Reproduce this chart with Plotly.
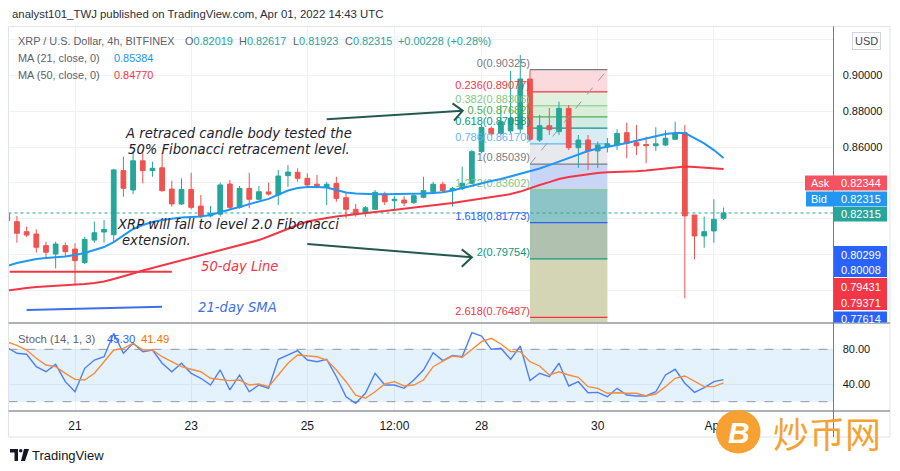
import plotly.graph_objects as go
import pandas as pd

W, H = 900, 471


def px(x):
    return x / W


def py(y):
    return 1 - y / H


base = pd.Timestamp("2022-03-21 00:00")


def t(h):
    return (base + pd.Timedelta(minutes=round(h * 60))).strftime("%Y-%m-%d %H:%M")


# ------------------------------------------------------------------ data
candle_time = pd.date_range("2022-03-19 20:00", periods=75, freq="4h")

open_ = [0.8230, 0.8183, 0.8127, 0.8114, 0.8049, 0.8002, 0.8049, 0.8030, 0.7954, 0.8080,
         0.8125, 0.8110, 0.8468, 0.8360, 0.8523, 0.8468, 0.8484, 0.8365, 0.8282, 0.8363,
         0.8270, 0.8215, 0.8225, 0.8393, 0.8263, 0.8369, 0.8308, 0.8349, 0.8332, 0.8440,
         0.8459, 0.8425, 0.8392, 0.8374, 0.8397, 0.8317, 0.8252, 0.8230, 0.8252, 0.8337,
         0.8300, 0.8304, 0.8289, 0.8319, 0.8350, 0.8392, 0.8356, 0.8369, 0.8397, 0.8574,
         0.8704, 0.8676, 0.8690, 0.8700, 0.8980, 0.8639, 0.8719, 0.8686, 0.8816, 0.8596,
         0.8639, 0.8578, 0.8600, 0.8611, 0.8680, 0.8624, 0.8614, 0.8607, 0.8611, 0.8643,
         0.8680, 0.8220, 0.8103, 0.8131, 0.82019]
high_ = [0.8240, 0.8215, 0.8155, 0.8140, 0.8071, 0.8071, 0.8067, 0.8062, 0.8099, 0.8183,
         0.8192, 0.8478, 0.8546, 0.8580, 0.8585, 0.8518, 0.8568, 0.8412, 0.8425, 0.8456,
         0.8332, 0.8270, 0.8401, 0.8416, 0.8382, 0.8456, 0.8382, 0.8401, 0.8472, 0.8499,
         0.8481, 0.8453, 0.8444, 0.8406, 0.8434, 0.8350, 0.8282, 0.8270, 0.8360, 0.8350,
         0.8326, 0.8326, 0.8341, 0.8434, 0.8406, 0.8406, 0.8378, 0.8490, 0.8583, 0.8723,
         0.8716, 0.8835, 0.9026, 0.9114, 0.9030, 0.8779, 0.8818, 0.8853, 0.8835, 0.8667,
         0.8667, 0.8630, 0.8650, 0.8700, 0.8736, 0.8723, 0.8658, 0.8710, 0.8695, 0.8741,
         0.8723, 0.8220, 0.8211, 0.8308, 0.82617]
low_ = [0.8180, 0.8065, 0.8096, 0.8010, 0.7984, 0.7922, 0.7987, 0.7829, 0.7946, 0.8065,
        0.8065, 0.8065, 0.8322, 0.8337, 0.8397, 0.8434, 0.8350, 0.8267, 0.8276, 0.8252,
        0.8202, 0.8207, 0.8211, 0.8252, 0.8255, 0.8258, 0.8304, 0.8328, 0.8276, 0.8378,
        0.8406, 0.8378, 0.8369, 0.8276, 0.8294, 0.8202, 0.8211, 0.8211, 0.8248, 0.8276,
        0.8248, 0.8270, 0.8282, 0.8313, 0.8345, 0.8345, 0.8267, 0.8360, 0.8393, 0.8565,
        0.8660, 0.8667, 0.8675, 0.8676, 0.8630, 0.8628, 0.8667, 0.8667, 0.8583, 0.8483,
        0.8472, 0.8483, 0.8570, 0.8583, 0.8537, 0.8555, 0.8509, 0.8579, 0.8606, 0.8639,
        0.7755, 0.7973, 0.8037, 0.8065, 0.81923]
close_ = [0.8188, 0.8118, 0.8108, 0.8040, 0.8012, 0.8058, 0.8015, 0.7965, 0.8084, 0.8121,
          0.8140, 0.8472, 0.8369, 0.8523, 0.8468, 0.8481, 0.8356, 0.8282, 0.8363, 0.8263,
          0.8215, 0.8230, 0.8388, 0.8263, 0.8369, 0.8308, 0.8350, 0.8337, 0.8438, 0.8460,
          0.8425, 0.8388, 0.8384, 0.8392, 0.8313, 0.8252, 0.8226, 0.8261, 0.8347, 0.8294,
          0.8308, 0.8287, 0.8328, 0.8356, 0.8392, 0.8356, 0.8369, 0.8397, 0.8574, 0.8710,
          0.8673, 0.8741, 0.8760, 0.8980, 0.8643, 0.8719, 0.8697, 0.8816, 0.8596, 0.8639,
          0.8578, 0.8611, 0.8618, 0.8676, 0.8620, 0.8607, 0.8607, 0.8618, 0.8649, 0.8676,
          0.8215, 0.8103, 0.8127, 0.8196, 0.82315]

ma21 = [0.7935, 0.7952, 0.7963, 0.7974, 0.7980, 0.7983, 0.7988, 0.7997, 0.8008, 0.8025,
        0.8041, 0.8069, 0.8108, 0.8142, 0.8164, 0.8181, 0.8192, 0.8201, 0.8206, 0.8209,
        0.8212, 0.8220, 0.8237, 0.8251, 0.8265, 0.8282, 0.8296, 0.8310, 0.8335, 0.8357,
        0.8371, 0.8377, 0.8377, 0.8374, 0.8360, 0.8346, 0.8340, 0.8337, 0.8336, 0.8336,
        0.8336, 0.8336, 0.8337, 0.8340, 0.8343, 0.8347, 0.8357, 0.8371, 0.8385, 0.8399,
        0.8410, 0.8421, 0.8435, 0.8449, 0.8463, 0.8480, 0.8499, 0.8519, 0.8539, 0.8558,
        0.8578, 0.8592, 0.8600, 0.8611, 0.8622, 0.8634, 0.8647, 0.8661, 0.8673, 0.8678,
        0.8678, 0.8650, 0.8620, 0.8583, 0.85384]
ma50 = [0.7798, 0.7807, 0.7812, 0.7818, 0.7821, 0.7823, 0.7826, 0.7829, 0.7835, 0.7840,
        0.7849, 0.7863, 0.7877, 0.7893, 0.7910, 0.7924, 0.7938, 0.7952, 0.7969, 0.7983,
        0.7997, 0.8011, 0.8022, 0.8036, 0.8050, 0.8064, 0.8080, 0.8100, 0.8122, 0.8145,
        0.8164, 0.8184, 0.8195, 0.8203, 0.8212, 0.8219, 0.8226, 0.8231, 0.8237, 0.8242,
        0.8248, 0.8254, 0.8259, 0.8265, 0.8273, 0.8279, 0.8287, 0.8296, 0.8304, 0.8312,
        0.8321, 0.8329, 0.8337, 0.8351, 0.8371, 0.8388, 0.8404, 0.8421, 0.8432, 0.8441,
        0.8449, 0.8455, 0.8459, 0.8460, 0.8462, 0.8465, 0.8469, 0.8474, 0.8480, 0.8488,
        0.8491, 0.8488, 0.8485, 0.8480, 0.84770]

stoch_k = [82.0, 75.4, 74.3, 60.1, 54.3, 62.8, 42.9, 31.4, 58.2, 67.7,
           71.5, 98.3, 75.4, 86.9, 77.3, 79.2, 64.0, 54.3, 64.0, 52.5,
           46.8, 39.1, 56.3, 33.4, 50.6, 31.4, 39.1, 35.3, 68.5, 73.5,
           78.4, 67.7, 65.8, 68.5, 48.6, 25.7, 18.1, 29.6, 52.5, 39.1,
           39.1, 35.3, 44.8, 56.3, 76.1, 67.0, 73.0, 71.5, 99.0, 95.2,
           80.0, 81.1, 68.5, 83.8, 44.1, 52.5, 48.6, 64.0, 38.0, 42.9,
           30.3, 30.7, 25.7, 35.3, 27.6, 26.5, 26.5, 31.4, 50.6, 57.1,
           41.1, 30.7, 36.0, 42.9, 45.30]
stoch_d = [88.5, 84.6, 79.2, 69.7, 62.0, 60.1, 52.5, 45.6, 44.8, 52.5,
           65.8, 79.2, 81.1, 86.9, 79.2, 79.2, 71.5, 65.8, 60.1, 57.1,
           54.3, 46.8, 45.6, 44.1, 44.8, 39.1, 40.3, 37.2, 50.6, 64.0,
           73.5, 72.3, 71.5, 67.7, 56.3, 42.9, 27.6, 23.9, 31.4, 40.3,
           42.9, 38.0, 39.1, 44.8, 60.1, 66.5, 72.3, 70.8, 80.0, 88.7,
           92.6, 86.1, 77.3, 77.3, 65.8, 60.9, 50.6, 54.3, 50.6, 47.9,
           37.2, 35.3, 29.6, 30.3, 29.6, 29.6, 26.5, 28.8, 37.2, 46.8,
           49.4, 42.9, 37.2, 37.2, 41.49]

fib_ratios = ["0", "0.236", "0.382", "0.5", "0.618", "0.786", "1", "1.272", "1.618", "2", "2.618"]
fib_prices = [0.90325, 0.89077, 0.88306, 0.87682, 0.87058, 0.86170, 0.85039, 0.83602, 0.81773,
              0.79754, 0.76487]
fib_start = "2022-03-28 20:00"
fib_end = "2022-03-30 04:00"

xtick_vals = ["2022-03-21", "2022-03-23", "2022-03-25", "2022-03-26 12:00", "2022-03-28",
              "2022-03-30", "2022-04-01"]
xtick_text = ["21", "23", "25", "12:00", "28", "30", "Apr"]
price_ticks = [0.78, 0.80, 0.82, 0.84, 0.86, 0.88, 0.90, 0.92]
price_tick_text = ["", "", "", "", "0.86000", "0.88000", "0.90000", ""]
stoch_ticks = [40, 80]
stoch_tick_text = ["40.00", "80.00"]

last = dict(o=0.82019, h=0.82617, l=0.81923, c=0.82315, chg="+0.00228 (+0.28%)")
ma21_last, ma50_last = 0.85384, 0.84770
k_last, d_last = 45.30, 41.49
ask, bid = 0.82344, 0.82315
side_tags = [("0.80299", "#2962ff"), ("0.80008", "#2962ff"), ("0.79431", "#f23645"),
             ("0.79371", "#f23645"), ("0.77614", "#2962ff")]

# ------------------------------------------------------------------ styles
GREEN = "#26a69a"
RED = "#ef5350"
GRID = "#eef1f6"
TXT = "#131722"
GREY = "#5d606b"
FONT = "Liberation Sans, Arial, sans-serif"
IT_FONT = "DejaVu Sans, sans-serif"
fib_line_colors = ["#787b86", "#f23645", "#81c784", "#4caf50", "#089981", "#64b5f6",
                   "#787b86", "#81c784", "#2962ff", "#089981", "#f23645"]
fib_fill_colors = ["#fadadd", "#e1f1e0", "#d8eed8", "#d2ece5", "#d8ecf4", "#e8e9ec",
                   "#c9d5f7", "#8dc4c8", "#b1c1af", "#d3d5b5"]

x_range = [t(-27.48), t(313.43)]
y_range = [0.76196, 0.92732]
s_range = [9.9, 109.55]

fig = go.Figure()

# fib labels (clipped to pane)
fig.add_trace(go.Scatter(
    x=[fib_start] * len(fib_prices), y=fib_prices, mode="text",
    text=[f"{r}({p:.5f})" for r, p in zip(fib_ratios, fib_prices)],
    textposition="top left", cliponaxis=True,
    textfont=dict(family=FONT, size=11, color=fib_line_colors),
    hoverinfo="skip", showlegend=False, xaxis="x", yaxis="y"))

fig.add_trace(go.Candlestick(
    x=candle_time, open=open_, high=high_, low=low_, close=close_,
    increasing=dict(line=dict(color=GREEN, width=1), fillcolor=GREEN),
    decreasing=dict(line=dict(color=RED, width=1), fillcolor=RED),
    whiskerwidth=0, hoverinfo="skip", showlegend=False, xaxis="x", yaxis="y"))

fig.add_trace(go.Scatter(x=candle_time, y=ma21, mode="lines",
                         line=dict(color="#2196f3", width=2), hoverinfo="skip",
                         showlegend=False, xaxis="x", yaxis="y"))
fig.add_trace(go.Scatter(x=candle_time, y=ma50, mode="lines",
                         line=dict(color="#f23645", width=2), hoverinfo="skip",
                         showlegend=False, xaxis="x", yaxis="y"))

# user drawings: lines and arrows
ARROW = "#24594d"
drawings = [
    ([t(-27), t(40)], [0.7903, 0.7903], "#f23645", 2, "solid"),
    ([t(-20), t(36)], [0.7689, 0.7708], "#3d6fe8", 2, "solid"),
    ([t(104), t(160.2)], [0.8755, 0.8803], ARROW, 2, "solid"),
    ([t(156), t(160.2), t(156.6)], [0.8844, 0.8803, 0.8747], ARROW, 2, "solid"),
    ([t(96), t(164)], [0.8058, 0.7984], ARROW, 2, "solid"),
    ([t(159.8), t(164), t(159.8)], [0.8028, 0.7984, 0.7931], ARROW, 2, "solid"),
    ([fib_start, fib_end], [fib_prices[6], fib_prices[0]], "#9598a1", 1, "dash"),
]
for xs, ys, col, wd, dash in drawings:
    fig.add_trace(go.Scatter(
        x=xs, y=ys, mode="lines", line=dict(color=col, width=wd, dash=dash),
        hoverinfo="skip", showlegend=False, xaxis="x", yaxis="y"))

# stochastic
fig.add_trace(go.Scatter(x=candle_time, y=stoch_k, mode="lines",
                         line=dict(color="#4f7ff7", width=1.4), hoverinfo="skip",
                         showlegend=False, xaxis="x2", yaxis="y2"))
fig.add_trace(go.Scatter(x=candle_time, y=stoch_d, mode="lines",
                         line=dict(color="#f98b3a", width=1.4), hoverinfo="skip",
                         showlegend=False, xaxis="x2", yaxis="y2"))

shapes = []
# fib fills + lines
for j in range(len(fib_prices) - 1):
    shapes.append(dict(type="rect", xref="x", yref="y", x0=fib_start, x1=fib_end,
                       y0=fib_prices[j + 1], y1=fib_prices[j], fillcolor=fib_fill_colors[j],
                       line=dict(width=0), layer="between"))
shapes.append(dict(type="rect", xref="x", yref="y", x0=fib_start, x1=fib_end,
                   y0=y_range[0], y1=fib_prices[-1], fillcolor=fib_fill_colors[-1],
                   line=dict(width=0), layer="between"))
for p, c in zip(fib_prices, fib_line_colors):
    shapes.append(dict(type="line", xref="x", yref="y", x0=fib_start, x1=fib_end, y0=p, y1=p,
                       line=dict(color=c, width=1.2), layer="between"))
# last price dotted line
shapes.append(dict(type="line", xref="x", yref="y", x0=x_range[0], x1=x_range[1],
                   y0=last["c"], y1=last["c"], line=dict(color=GREEN, width=1, dash="dot"),
                   layer="between"))
# stoch band
shapes.append(dict(type="rect", xref="x2", yref="y2", x0=x_range[0], x1=x_range[1], y0=20,
                   y1=80, fillcolor="rgba(33,150,243,0.12)", line=dict(width=0),
                   layer="between"))
for lv in (20, 80):
    shapes.append(dict(type="line", xref="x2", yref="y2", x0=x_range[0], x1=x_range[1],
                       y0=lv, y1=lv, line=dict(color="#9598a1", width=1, dash="dash"),
                       layer="between"))
# frame
shapes += [
    dict(type="rect", xref="paper", yref="paper", x0=px(8.5), x1=px(890), y0=py(437),
         y1=py(26.5), line=dict(color="#e0e3eb", width=1), layer="above"),
    dict(type="line", xref="paper", yref="paper", x0=px(8.5), x1=px(890), y0=py(323),
         y1=py(323), line=dict(color="#9598a1", width=1.5), layer="above"),
    dict(type="line", xref="paper", yref="paper", x0=px(8.5), x1=px(890), y0=py(411),
         y1=py(411), line=dict(color="#9598a1", width=1.5), layer="above"),
    dict(type="line", xref="paper", yref="paper", x0=px(833.5), x1=px(833.5), y0=py(437),
         y1=py(26.5), line=dict(color="#787b86", width=1), layer="above"),
]

annotations = []


def ann(x, y, text, color=TXT, size=11, family=FONT, xanchor="left", **kw):
    annotations.append(dict(xref="paper", yref="paper", x=px(x), y=py(y), text=text,
                            showarrow=False, xanchor=xanchor, yanchor="middle",
                            font=dict(family=family, size=size, color=color), **kw))


def tag(x0, x1, y0, y1, color):
    shapes.append(dict(type="rect", xref="paper", yref="paper", x0=px(x0), x1=px(x1),
                       y0=py(y1), y1=py(y0), fillcolor=color, line=dict(width=0),
                       layer="above"))


# price tags
tag(805, 887, 175.5, 190.5, "#f7525f")
ann(809, 183, "Ask", "white", 11)
ann(861, 183, f"{ask:.5f}", "white", 11, xanchor="center")
tag(806, 887, 191.5, 206.5, "#2196f3")
ann(809, 199, "Bid", "white", 11)
ann(861, 199, f"{bid:.5f}", "white", 11, xanchor="center")
tag(834, 887, 207, 221.5, GREEN)
ann(861, 214, f"{last['c']:.5f}", "white", 11, xanchor="center")
tag(834, 887, 246, 277, "#2962ff")
tag(834, 887, 278, 310, "#f23645")
tag(834, 887, 311.5, 322.5, "#2962ff")
for (txt, col), yc in zip(side_tags, [254.5, 270, 286.5, 302.5, 318.5]):
    ann(861, yc, txt, "white", 11, xanchor="center")
# USD box
ann(866, 41, "USD", "#434651", 11, xanchor="center", bgcolor="white",
    bordercolor="#d1d4dc", borderwidth=1, borderpad=2)

# header and legends
ann(10, 14, "analyst101_TWJ published on TradingView.com, Apr 01, 2022 14:43 UTC",
    "#2a2e39", 11.4)
ann(16, 41, "XRP / U.S. Dollar, 4h, BITFINEX", GREY, 10.9)
for x, k, v in [(183, "O", last["o"]), (237, "H", last["h"]), (291, "L", last["l"]),
                (343, "C", last["c"])]:
    ann(x, 41, f"<span style='color:{GREY}'>{k}</span>{v:.5f}", GREEN, 10.9)
ann(396, 41, last["chg"], GREEN, 10.9)
ann(16, 58, "MA (21, close, 0)", GREY, 10.9)
ann(112, 58, f"{ma21_last:.5f}", "#2196f3", 10.9)
ann(16, 75, "MA (50, close, 0)", GREY, 10.9)
ann(112, 75, f"{ma50_last:.5f}", "#f23645", 10.9)
ann(16, 339, "Stoch (14, 1, 3)", GREY, 11.3)
ann(105, 339, f"{k_last:.2f}", "#2962ff", 11.3)
ann(139, 339, f"{d_last:.2f}", "#ff6d00", 11.3)

# chart text drawings (data coordinates)
for x, y, txt, col, anchor in [
    (t(67.4), 0.8677, "A retraced candle body tested the", "#1e222d", "center"),
    (t(67.6), 0.8587, "50% Fibonacci retracement level.", "#1e222d", "center"),
    (t(16.5), 0.8165, "XRP will fall to level 2.0 Fibonacci", "#1e222d", "left"),
    (t(18.6), 0.8075, "extension.", "#1e222d", "left"),
    (t(51.2), 0.7935, "50-day Line", "#f23645", "left"),
    (t(50.0), 0.7701, "21-day SMA", "#3d6fe8", "left"),
]:
    annotations.append(dict(xref="x", yref="y", x=x, y=y, text=f"<i>{txt}</i>",
                            showarrow=False, xanchor=anchor, yanchor="middle",
                            font=dict(family=IT_FONT, size=13.2, color=col)))

# TradingView logo
shapes += [
    dict(type="rect", xref="paper", yref="paper", x0=px(10), x1=px(18), y0=py(452.5),
         y1=py(449), fillcolor=TXT, line=dict(width=0), layer="above"),
    dict(type="rect", xref="paper", yref="paper", x0=px(14.5), x1=px(18), y0=py(461),
         y1=py(449), fillcolor=TXT, line=dict(width=0), layer="above"),
    dict(type="circle", xref="paper", yref="paper", x0=px(19), x1=px(22.5), y0=py(452.5),
         y1=py(449), fillcolor=TXT, line=dict(width=0), layer="above"),
    dict(type="path", xref="paper", yref="paper",
         path=(f"M {px(24):.5f},{py(449):.5f} L {px(29):.5f},{py(449):.5f} "
               f"L {px(25):.5f},{py(461):.5f} L {px(21):.5f},{py(461):.5f} Z"),
         fillcolor=TXT, line=dict(width=0), layer="above"),
]
ann(30, 455, "TradingView", TXT, 13)

# watermark
shapes.append(dict(type="circle", xref="paper", yref="paper", x0=px(716), x1=px(760.5),
                   y0=py(453.5), y1=py(410), fillcolor="#f7a133", line=dict(width=0),
                   layer="above"))
ann(739, 432, "<b><i>B</i></b>", "white", 30, xanchor="center")
ann(827, 432, "炒币网", "#f7a133", 36, "Noto Sans CJK SC, sans-serif", xanchor="center")

fig.update_layout(
    width=W, height=H, margin=dict(l=0, r=0, t=0, b=0),
    paper_bgcolor="white", plot_bgcolor="white", showlegend=False,
    shapes=shapes, annotations=annotations,
    xaxis=dict(domain=[px(8.5), px(833.5)], range=x_range, anchor="y", tickvals=xtick_vals,
               showticklabels=False, showgrid=True, gridcolor=GRID, zeroline=False,
               showline=False, rangeslider=dict(visible=False), ticks=""),
    yaxis=dict(domain=[py(322.5), py(26.5)], range=y_range, side="right",
               anchor="x", tickvals=price_ticks, ticktext=price_tick_text,
               tickfont=dict(family=FONT, size=11, color=TXT), ticks="outside", ticklen=6,
               tickcolor="rgba(0,0,0,0)", showgrid=True, gridcolor=GRID, zeroline=False,
               showline=False),
    xaxis2=dict(domain=[px(8.5), px(833.5)], range=x_range, anchor="y2", tickvals=xtick_vals,
                ticktext=xtick_text, tickfont=dict(family=FONT, size=12, color=TXT),
                ticks="outside", ticklen=4, tickcolor="rgba(0,0,0,0)", showgrid=True,
                gridcolor=GRID, zeroline=False, showline=False),
    yaxis2=dict(domain=[py(410.5), py(323.5)], range=s_range, side="right",
                anchor="x2", tickvals=stoch_ticks, ticktext=stoch_tick_text,
                tickfont=dict(family=FONT, size=11, color=TXT), ticks="outside", ticklen=6,
                tickcolor="rgba(0,0,0,0)", showgrid=True, gridcolor=GRID, zeroline=False,
                showline=False),
)

fig.write_html("out.html")
